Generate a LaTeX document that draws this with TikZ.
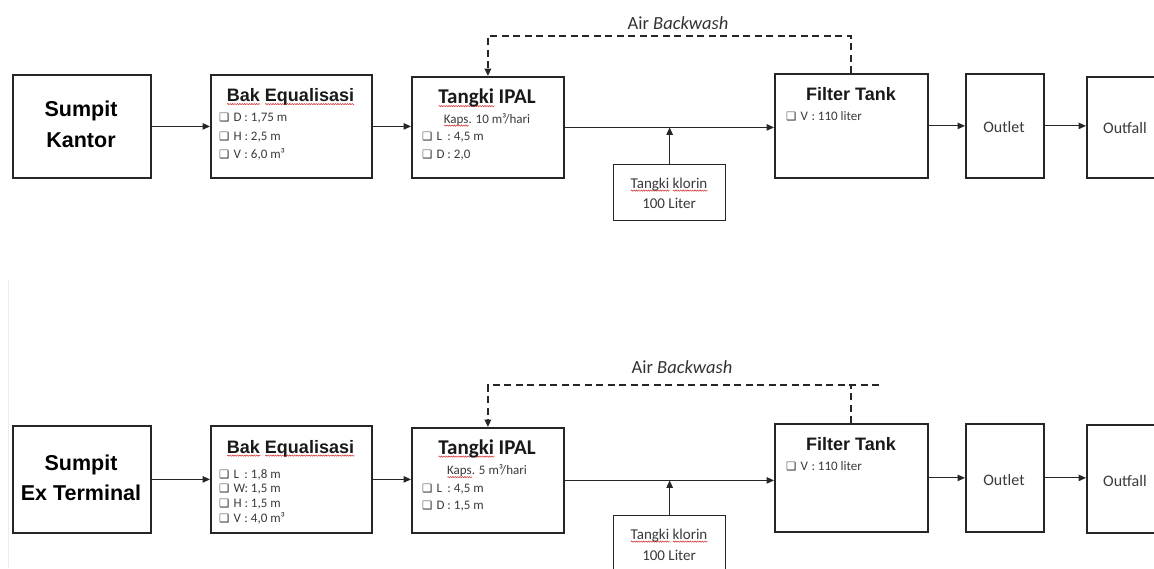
\documentclass[tikz,border=0pt]{standalone}
\usepackage{fontspec}
\setmainfont{Carlito}
\newfontfamily\arialf{Liberation Sans}
\newfontfamily\dejavu{DejaVu Sans}
\usetikzlibrary{arrows.meta,decorations.pathmorphing}
\definecolor{bord}{HTML}{262626}
\definecolor{txt}{HTML}{3A3A3A}
\definecolor{sqred}{HTML}{D84040}
\newlength\sqw
\newcommand\sq[1]{\settowidth\sqw{#1}\rlap{\tikz[baseline=0pt,x=1pt,y=1pt]\draw[sqred,line width=0.6pt,solid,decorate,decoration={zigzag,amplitude=0.6pt,segment length=2.4pt}] (0pt,-2.6pt) -- (\sqw,-2.6pt);}#1}
\newcommand\cb{{\dejavu\fontsize{11.5}{12}\selectfont ❑}}
\newcommand\itm[2]{\cb\hspace{4pt}\makebox[11pt][l]{#1}:\hspace{3pt}#2}
\begin{document}
\begin{tikzpicture}[x=1pt,y=-1pt,
  box/.style={draw=bord,line width=1.8pt,inner sep=0pt,anchor=north west},
  thinbox/.style={draw=bord,line width=1.3pt,inner sep=0pt,anchor=north west},
  ttl/.style={font=\arialf\bfseries\fontsize{21.5}{24}\selectfont,inner sep=0pt,anchor=base,text=black},
  hd/.style={font=\arialf\bfseries\fontsize{18}{20}\selectfont,inner sep=0pt,anchor=base,text=black!90},
  hdc/.style={font=\bfseries\fontsize{21}{23}\selectfont,inner sep=0pt,anchor=base,text=black!90},
  it/.style={font=\fontsize{13}{14}\selectfont,text=txt,inner sep=0pt,anchor=base west},
  sub/.style={font=\fontsize{13}{15}\selectfont,text=txt,inner sep=0pt,anchor=base},
  lbl/.style={font=\fontsize{16}{18}\selectfont,text=txt,inner sep=0pt},
  klt/.style={font=\fontsize{15}{17}\selectfont,text=txt,inner sep=0pt,anchor=base},
  bw/.style={font=\fontsize{18.5}{20}\selectfont,text=black!80,inner sep=0pt,anchor=base},
  arr/.style={draw=bord,line width=1.1pt,-{Triangle[length=7.5pt,width=6.5pt]}},
  dsh/.style={draw=bord,line width=1.9pt,dash pattern=on 7pt off 4.5pt},
  dsharr/.style={dsh,-{Triangle[length=7.5pt,width=6.5pt]}}]
\clip (0,0) rectangle (1154,568);
\fill[white] (0,0) rectangle (1154,568);
\draw[gray!15,line width=1pt] (8,280) -- (8,568);

% ---------------- top row ----------------
\node[box,minimum width=138pt,minimum height=103pt] (skt1) at (12,74) {};
\node[box,minimum width=161pt,minimum height=103pt] (bak1) at (210,74) {};
\node[box,minimum width=152pt,minimum height=101pt] (ipal1) at (411,76) {};
\node[thinbox,minimum width=112pt,minimum height=56pt] (klor1) at (613,164) {};
\node[box,minimum width=153pt,minimum height=104pt] (filt1) at (774,73) {};
\node[box,minimum width=78pt,minimum height=104pt] (outl1) at (965,73) {};
\node[box,minimum width=100pt,minimum height=101pt] (outf1) at (1086,76) {};

\node[ttl] (s1a) at (81,116) {Sumpit};
\node[ttl] (s1b) at (81,147) {Kantor};

\node[hd] (b1t) at (290.5,101.5) {\sq{Bak} \sq{Equalisasi}};
\node[it] (b1i1) at (219,121.5) {\itm{D}{1,75 m}};
\node[it] (b1i2) at (219,140) {\itm{H}{2,5 m}};
\node[it] (b1i3) at (219,158.5) {\itm{V}{6,0 m³}};

\node[hdc] (i1t) at (487,103.5) {\sq{Tangki} IPAL};
\node[sub] (i1k) at (487,123) {\sq{Kaps}. 10 m³/hari};
\node[it] (i1i1) at (422,140) {\itm{L}{4,5 m}};
\node[it] (i1i2) at (422,158) {\itm{D}{2,0}};

\node[klt] (k1a) at (669,188) {\sq{Tangki} \sq{klorin}};
\node[klt] (k1b) at (669,208) {100 Liter};

\node[hd] (f1t) at (851,100.7) {Filter Tank};
\node[it] (f1i) at (786,120) {\itm{V}{110 liter}};

\node[lbl,anchor=base] (o1) at (1004,132.5) {Outlet};
\node[lbl,anchor=base west] (of1) at (1103,133.5) {Outfall};

\node[bw] (bw1) at (678,29.3) {Air \textit{Backwash}};

\draw[arr] (skt1.east) -- (bak1.west |- skt1.east);
\draw[arr] (bak1.east) -- (ipal1.west |- bak1.east);
\draw[arr] (ipal1.east) -- (filt1.west |- ipal1.east);
\draw[arr] (klor1.north) -- (klor1.north |- ipal1.east);
\draw[arr] (filt1.east) -- (outl1.west |- filt1.east);
\draw[arr] (outl1.east) -- (outf1.west |- outl1.east);
\draw[dsharr] (filt1.north) -- ++(0,-37) -| (ipal1.north);

% ---------------- bottom row ----------------
\node[box,minimum width=138pt,minimum height=107pt] (skt2) at (12,425) {};
\node[box,minimum width=161pt,minimum height=107pt] (bak2) at (210,425) {};
\node[box,minimum width=152pt,minimum height=105pt] (ipal2) at (411,427) {};
\node[thinbox,minimum width=112pt,minimum height=62pt] (klor2) at (613,515) {};
\node[box,minimum width=153pt,minimum height=108pt] (filt2) at (774,423) {};
\node[box,minimum width=78pt,minimum height=108pt] (outl2) at (965,423) {};
\node[box,minimum width=100pt,minimum height=108pt] (outf2) at (1086,424) {};

\node[ttl] (s2a) at (81,470) {Sumpit};
\node[ttl] (s2b) at (81,500.5) {Ex Terminal};

\node[hd] (b2t) at (290.5,453) {\sq{Bak} \sq{Equalisasi}};
\node[it] (b2i1) at (219,478) {\itm{L}{1,8 m}};
\node[it] (b2i2) at (219,492.5) {\itm{W}{1,5 m}};
\node[it] (b2i3) at (219,507) {\itm{H}{1,5 m}};
\node[it] (b2i4) at (219,522.5) {\itm{V}{4,0 m³}};

\node[hdc] (i2t) at (487,454) {\sq{Tangki} IPAL};
\node[sub] (i2k) at (487,474.5) {\sq{Kaps}. 5 m³/hari};
\node[it] (i2i1) at (422,492) {\itm{L}{4,5 m}};
\node[it] (i2i2) at (422,509) {\itm{D}{1,5 m}};

\node[klt] (k2a) at (669,539) {\sq{Tangki} \sq{klorin}};
\node[klt] (k2b) at (669,560) {100 Liter};

\node[hd] (f2t) at (851,450.7) {Filter Tank};
\node[it] (f2i) at (786,470) {\itm{V}{110 liter}};

\node[lbl,anchor=base] (o2) at (1004,485) {Outlet};
\node[lbl,anchor=base west] (of2) at (1103,486) {Outfall};

\node[bw] (bw2) at (682,373.3) {Air \textit{Backwash}};

\coordinate (bwend) at (879,385);
\draw[arr] (skt2.east) -- (bak2.west |- skt2.east);
\draw[arr] (bak2.east) -- (ipal2.west |- bak2.east);
\draw[arr] (ipal2.east) -- (filt2.west |- ipal2.east);
\draw[arr] (klor2.north) -- (klor2.north |- ipal2.east);
\draw[arr] (filt2.east) -- (outl2.west |- filt2.east);
\draw[arr] (outl2.east) -- (outf2.west |- outl2.east);
\draw[dsh] (filt2.north) -- (filt2.north |- bwend);
\draw[dsharr] (bwend) -| (ipal2.north);
\end{tikzpicture}
\end{document}
